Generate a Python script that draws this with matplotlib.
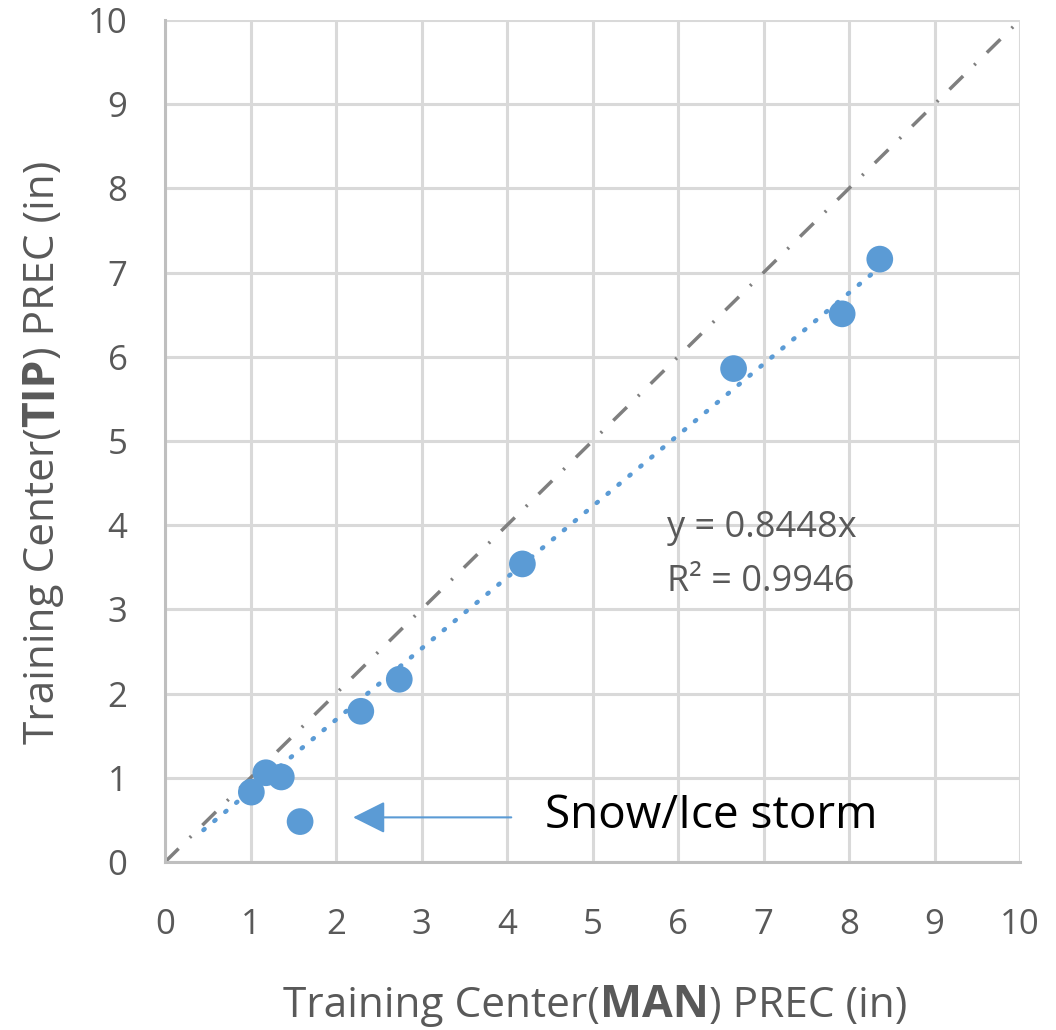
import matplotlib
matplotlib.use("Agg")
import matplotlib.pyplot as plt
import numpy as np

plt.rcParams['font.family'] = ['Open Sans', 'DejaVu Sans']

# Data
man_prec = [1.01, 1.18, 1.36, 1.58, 2.29, 2.74, 4.18, 6.65, 7.92, 8.36]
tip_prec = [0.83, 1.06, 1.01, 0.48, 1.79, 2.17, 3.54, 5.86, 6.51, 7.16]
slope = 0.8448
r2 = 0.9946
trend_x = [0.45, 8.36]
ticks = list(range(0, 11))

GRAY_TXT = '#595959'
BLUE = '#5b9bd5'

fig = plt.figure(figsize=(10.56, 10.30), dpi=100)
ax = fig.add_axes([165/1056, 1-862/1030, (1020-165)/1056, (862-20)/1030])
ax.set_xlim(0, 10)
ax.set_ylim(0, 10)
ax.set_xticks(ticks)
ax.set_yticks(ticks)
ax.grid(True, color='#d9d9d9', lw=2.2, zorder=0)
ax.tick_params(length=0, labelsize=25, colors=GRAY_TXT)
ax.tick_params(axis='x', pad=33)
ax.tick_params(axis='y', pad=27)
for s in ['top', 'right']:
    ax.spines[s].set_visible(False)
for s in ['left', 'bottom']:
    ax.spines[s].set_color('#bfbfbf')
    ax.spines[s].set_linewidth(2.2)
ax.set_axisbelow(True)

# 1:1 line
ax.plot([0, 10], [0, 10], color='#7f7f7f', lw=2.5, ls=(0, (5.5, 4.5, 0.6, 4.5)), zorder=2)
# trendline
tx = np.array(trend_x)
ax.plot(tx, slope * tx, color=BLUE, lw=3.3, ls=(0, (0.3, 2.8)),
        dash_capstyle='round', zorder=3)
# points
ax.scatter(man_prec, tip_prec, s=370, color=BLUE, zorder=4, edgecolors='none')

ax.text(5.87, 3.97, f"y = {slope}x", fontsize=26, color=GRAY_TXT, va='center', ha='left')
ax.text(5.87, 3.32, f"R² = {r2}", fontsize=26, color=GRAY_TXT, va='center', ha='left')

# annotation
ax.annotate("", xy=(2.2, 0.53), xytext=(4.05, 0.53),
            arrowprops=dict(arrowstyle='-|>,head_length=2.0,head_width=1.0',
                            mutation_scale=10,
                            color=BLUE, lw=1.5, shrinkA=0, shrinkB=0))
ax.text(4.44, 0.55, "Snow/Ice storm", fontsize=33, color='black', va='center', ha='left')

# Axis labels composed of pieces
fig.canvas.draw()
renderer = fig.canvas.get_renderer()

def hlabel(pieces, x_center_px, y_base_px):
    arts = []
    for txt, size, weight in pieces:
        t = fig.text(0, 0, txt, fontsize=size, fontweight=weight, color=GRAY_TXT,
                     ha='left', va='baseline', transform=None)
        arts.append(t)
    widths = [a.get_window_extent(renderer).width for a in arts]
    total = sum(widths)
    x = x_center_px - total / 2
    for a, w in zip(arts, widths):
        a.set_position((x, y_base_px))
        x += w

def vlabel(pieces, x_base_px, y_center_px):
    arts = []
    for txt, size, weight in pieces:
        t = fig.text(0, 0, txt, fontsize=size, fontweight=weight, color=GRAY_TXT,
                     ha='left', va='baseline', rotation=90, rotation_mode='anchor',
                     transform=None)
        arts.append(t)
    heights = [a.get_window_extent(renderer).height for a in arts]
    total = sum(heights)
    y = y_center_px - total / 2
    for a, h in zip(arts, heights):
        a.set_position((x_base_px, y))
        y += h

# pixel coords: origin bottom-left
hlabel([("Training Center(", 30.5, 'normal'), ("MAN", 32, 'bold'), (") PREC (in)", 30.5, 'normal')],
       595, 1030 - 1017)
vlabel([("Training Center(", 30.5, 'normal'), ("TIP", 32, 'bold'), (") PREC (in)", 30.5, 'normal')],
       54, 1030 - 452)

fig.savefig("out.png", dpi=100)
